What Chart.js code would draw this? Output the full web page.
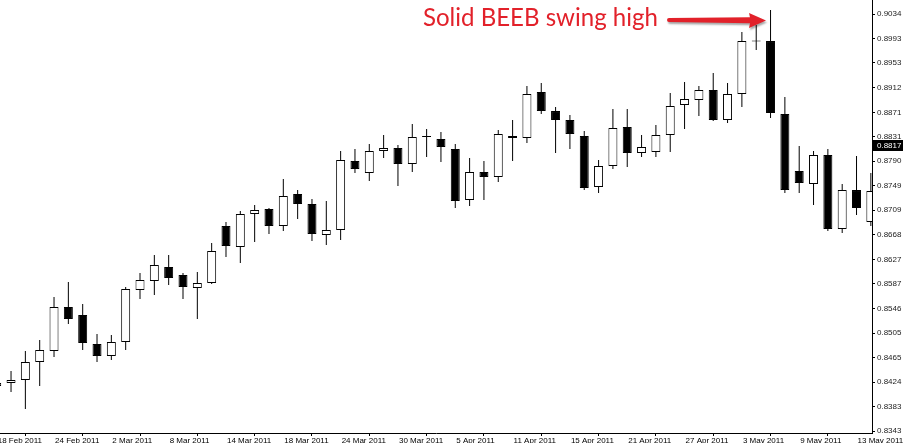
<!DOCTYPE html>
<html><head><meta charset="utf-8">
<script src="https://cdn.jsdelivr.net/npm/chart.js@4.4.1/dist/chart.umd.min.js"></script>
<style>html,body{margin:0;padding:0;background:#fff;overflow:hidden}canvas{display:block}</style>
</head><body>
<canvas id="c" width="903" height="443" style="width:903px;height:443px"></canvas>
<script>
// Daily candles, 18 Feb 2011 - 16 May 2011
const dates = ['18 Feb','21 Feb','22 Feb','23 Feb','24 Feb','25 Feb','28 Feb','1 Mar','2 Mar','3 Mar','4 Mar',
  '7 Mar','8 Mar','9 Mar','10 Mar','11 Mar','14 Mar','15 Mar','16 Mar','17 Mar','18 Mar','21 Mar','22 Mar','23 Mar',
  '24 Mar','25 Mar','28 Mar','29 Mar','30 Mar','31 Mar','1 Apr','4 Apr','5 Apr','6 Apr','7 Apr','8 Apr','11 Apr',
  '12 Apr','13 Apr','14 Apr','15 Apr','18 Apr','19 Apr','20 Apr','21 Apr','22 Apr','25 Apr','26 Apr','27 Apr',
  '28 Apr','29 Apr','2 May','3 May','4 May','5 May','6 May','9 May','10 May','11 May','12 May','13 May','16 May'];
const open = [0.84176,0.84225,0.84275,0.84573,0.84756,0.85485,0.85352,0.84872,0.84673,0.84905,0.85766,
  0.85916,0.86148,0.86015,0.85800,0.85882,0.86827,0.86479,0.87026,0.87109,0.86827,0.87357,0.87191,0.86678,
  0.86761,0.87904,0.87705,0.88070,0.88119,0.87854,0.88302,0.88268,0.88103,0.87258,0.87722,0.87639,0.88318,
  0.88285,0.89047,0.88732,0.88583,0.88318,0.87473,0.87821,0.88467,0.88037,0.88053,0.88335,0.88832,
  0.88915,0.89080,0.88583,0.89014,0.89892,0.89892,0.88683,0.87738,0.87523,0.88003,0.86777,0.87423,0.86893];
const high = [0.84308,0.84424,0.84756,0.84938,0.85650,0.85899,0.85534,0.85037,0.85021,0.85816,0.86048,
  0.86346,0.86346,0.86048,0.86065,0.86545,0.86893,0.87075,0.87175,0.87125,0.87606,0.87423,0.87274,0.87241,
  0.88070,0.88103,0.88186,0.88335,0.88169,0.88517,0.88434,0.88384,0.88186,0.87954,0.87904,0.88418,0.88583,
  0.89147,0.89196,0.88799,0.88666,0.88401,0.87920,0.88766,0.88766,0.88335,0.88500,0.89031,0.89213,
  0.89147,0.89362,0.89196,0.90041,0.90157,0.90406,0.88964,0.88152,0.88070,0.88103,0.87523,0.87987,0.87705];
const low = [0.84109,0.84076,0.83795,0.84176,0.84656,0.85203,0.84772,0.84573,0.84607,0.84772,0.85617,
  0.85684,0.85849,0.85617,0.85286,0.85866,0.86313,0.86214,0.86562,0.86694,0.86744,0.86943,0.86578,0.86512,
  0.86595,0.87705,0.87573,0.87954,0.87490,0.87722,0.87970,0.87887,0.87125,0.87158,0.87258,0.87556,0.87904,
  0.88202,0.88683,0.88037,0.88103,0.87423,0.87374,0.87771,0.87805,0.87970,0.87970,0.88053,0.88434,
  0.88650,0.88567,0.88534,0.88799,0.89743,0.88616,0.87374,0.87374,0.87175,0.86744,0.86711,0.87009,0.86827];
const close = [0.84225,0.84275,0.84573,0.84772,0.85485,0.85286,0.84888,0.84673,0.84905,0.85783,0.85932,
  0.86181,0.85965,0.85816,0.85882,0.86413,0.86496,0.87026,0.87092,0.86827,0.87324,0.87191,0.86694,0.86761,
  0.87920,0.87771,0.88070,0.88119,0.87854,0.88302,0.88318,0.88136,0.87241,0.87722,0.87639,0.88351,0.88285,
  0.89014,0.88732,0.88583,0.88351,0.87457,0.87821,0.88451,0.88037,0.88136,0.88335,0.88815,0.88931,
  0.89080,0.88583,0.89014,0.89892,0.89885,0.88699,0.87423,0.87539,0.88003,0.86777,0.87423,0.87125,0.87407];
const dateTickLabels = ['18 Feb 2011','24 Feb 2011','2 Mar 2011','8 Mar 2011','14 Mar 2011','18 Mar 2011',
  '24 Mar 2011','30 Mar 2011','5 Apr 2011','11 Apr 2011','15 Apr 2011','21 Apr 2011','27 Apr 2011',
  '3 May 2011','9 May 2011','13 May 2011'];
const priceTicks = [0.8343,0.8383,0.8424,0.8465,0.8505,0.8546,0.8587,0.8627,0.8668,0.8709,0.8749,0.8790,
  0.8831,0.8871,0.8912,0.8953,0.8993,0.9034];
const currentPrice = 0.8817;
const annotationText = 'Solid BEEB swing high';

const idx = dates.map((d, i) => i);
const bodyColors = idx.map(i => close[i] >= open[i] ? '#ffffff' : '#000000');
const TICK_STEP = 4;

const overlay = {
  id: 'overlay',
  afterDraw(chart) {
    const ctx = chart.ctx;
    const y = chart.scales.y;
    // current price box
    const py = y.getPixelForValue(currentPrice);
    ctx.save();
    ctx.fillStyle = '#000';
    ctx.fillRect(873, Math.round(py) - 5, 30, 11);
    ctx.fillStyle = '#fff';
    ctx.font = '8px "Liberation Sans"';
    ctx.textBaseline = 'middle';
    ctx.textAlign = 'left';
    ctx.fillText(currentPrice.toFixed(4), 877, Math.round(py) + 0.5);
    // annotation text
    const red = '#e2212a';
    ctx.fillStyle = red;
    let fs = 22;
    ctx.font = fs + 'px Lato';
    const w = ctx.measureText(annotationText).width;
    fs = fs * 235 / w;
    ctx.font = fs + 'px Lato';
    ctx.textBaseline = 'alphabetic';
    ctx.fillText(annotationText, 423, 26);
    // arrow
    ctx.shadowColor = 'rgba(0,0,0,0.35)';
    ctx.shadowOffsetX = 1;
    ctx.shadowOffsetY = 2;
    ctx.shadowBlur = 2;
    ctx.beginPath();
    ctx.moveTo(669, 18);
    ctx.lineTo(750, 17.2);
    ctx.lineTo(749, 13);
    ctx.lineTo(766, 20.5);
    ctx.lineTo(749, 28);
    ctx.lineTo(750, 23.2);
    ctx.lineTo(669, 22);
    ctx.arc(669, 20, 2, Math.PI / 2, Math.PI * 1.5);
    ctx.closePath();
    ctx.fill();
    ctx.restore();
  }
};

new Chart(document.getElementById('c'), {
  type: 'bar',
  data: {
    datasets: [
      {
        label: 'range',
        data: idx.map(i => ({ x: i, y: [low[i], high[i]] })),
        backgroundColor: '#000',
        borderWidth: 0,
        barThickness: 1, maxBarThickness: 1,
        grouped: false, order: 2, inflateAmount: 0, clip: 0
      },
      {
        label: 'body',
        data: idx.map(i => ({ x: i, y: [open[i], close[i]] })),
        backgroundColor: bodyColors,
        borderColor: '#000',
        borderWidth: 1,
        borderSkipped: false,
        barThickness: 9, maxBarThickness: 9,
        minBarLength: 1,
        grouped: false, order: 1, inflateAmount: 0, clip: 0
      }
    ]
  },
  options: {
    responsive: false,
    animation: false,
    devicePixelRatio: 1,
    layout: { padding: 0 },
    events: [],
    plugins: { legend: { display: false }, tooltip: { enabled: false } },
    scales: {
      x: {
        type: 'linear',
        min: 0.23, max: 61.08,
        bounds: 'data',
        offset: false,
        grid: { drawOnChartArea: false, drawTicks: true, tickLength: 3, color: '#000' },
        border: { display: true, color: '#000', width: 1 },
        ticks: {
          autoSkip: false, maxRotation: 0, minRotation: 0,
          align: 'start', padding: 0, labelOffset: 1,
          color: '#000', font: { family: '"Liberation Sans"', size: 8 },
          callback: (v, i) => dateTickLabels[i]
        },
        afterBuildTicks: s => { s.ticks = dateTickLabels.map((d, k) => ({ value: k * TICK_STEP })); },
        afterFit: s => { s.height = 10; s.paddingLeft = 0; s.paddingRight = 0; }
      },
      y: {
        type: 'linear',
        position: 'right',
        min: 0.83397, max: 0.90572,
        bounds: 'data',
        grid: { drawOnChartArea: false, drawTicks: true, tickLength: 3, color: '#000' },
        border: { display: true, color: '#000', width: 1 },
        ticks: {
          autoSkip: false, padding: 2,
          color: '#222', font: { family: '"Liberation Sans"', size: 8 },
          callback: v => Number(v).toFixed(4)
        },
        afterBuildTicks: s => { s.ticks = priceTicks.map(v => ({ value: v })); },
        afterFit: s => { s.width = 31; s.paddingTop = 0; s.paddingBottom = 0; }
      }
    }
  },
  plugins: [overlay]
});
</script>
</body></html>
